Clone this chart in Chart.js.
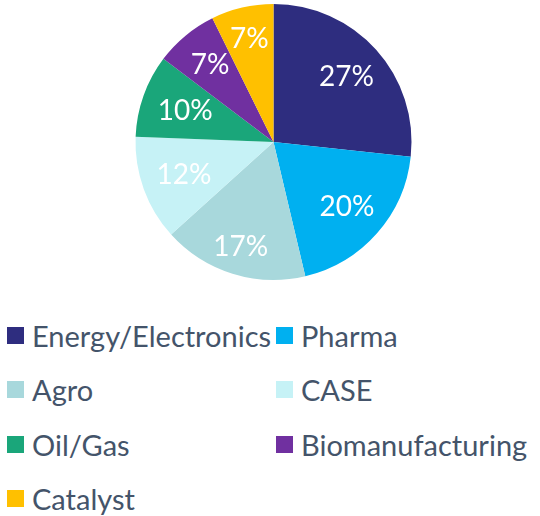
<!DOCTYPE html>
<html>
<head>
<meta charset="utf-8">
<script src="https://cdn.jsdelivr.net/npm/chart.js@4/dist/chart.umd.min.js"></script>
<style>
  body { margin: 0; background: #fff; font-family: Lato, sans-serif; }
  #wrap { position: relative; width: 540px; height: 300px; }
  #legend { position: absolute; left: 7px; top: 317px; display: grid;
    grid-template-columns: 269px 260px; grid-auto-rows: 54.5px; }
  .item { display: flex; align-items: center; height: 36px; color: #44546A; font-size: 29px; white-space: nowrap; }
  .box { width: 17px; height: 17px; margin-right: 8px; flex: none; }
</style>
</head>
<body>
<div id="wrap"><canvas id="pie"></canvas></div>
<div id="legend"></div>
<script>
// sectors and their shares
const sectors = ["Energy/Electronics", "Pharma", "Agro", "CASE", "Oil/Gas", "Biomanufacturing", "Catalyst"];
const shares = [26.7, 19.6, 17.0, 12.3, 9.7, 7.4, 7.3];
const colours = ["#2E2D7F", "#00B0F0", "#A8D8DC", "#C6F2F6", "#1AA67A", "#7030A0", "#FFC000"];

// draws the white percent labels inside each slice
const sliceLabels = {
    id: "sliceLabels",
    afterDatasetsDraw(chart) {
        const ctx = chart.ctx;
        const dist = [0.71, 0.71, 0.8, 0.69, 0.68, 0.72, 0.77];
        const total = shares.reduce((a, b) => a + b, 0);
        ctx.save();
        ctx.fillStyle = "#fff";
        ctx.font = "28px Lato";
        ctx.textAlign = "center";
        ctx.textBaseline = "middle";
        chart.getDatasetMeta(0).data.forEach((arc, i) => {
            const p = arc.getProps(["x", "y", "startAngle", "endAngle", "outerRadius"], true);
            const mid = (p.startAngle + p.endAngle) / 2;
            const r = p.outerRadius * dist[i];
            const txt = Math.round(shares[i] / total * 100) + "%";
            ctx.fillText(txt, p.x + Math.cos(mid) * r, p.y + Math.sin(mid) * r);
        });
        ctx.restore();
    }
};

new Chart("pie", {
    type: "pie",
    data: {
        labels: sectors,
        datasets: [{
            data: shares,
            backgroundColor: colours,
            borderWidth: 0
        }]
    },
    options: {
        responsive: true,
        maintainAspectRatio: false,
        animation: false,
        layout: { padding: { top: 4, bottom: 20, left: 7, right: 0 } },
        plugins: {
            legend: { display: false },
            tooltip: { enabled: false }
        }
    },
    plugins: [sliceLabels]
});

// legend below the pie, two columns
const legend = document.getElementById("legend");
sectors.forEach((s, i) => {
    const item = document.createElement("div");
    item.className = "item";
    item.innerHTML = '<span class="box" style="background:' + colours[i] + '"></span>' + s;
    legend.appendChild(item);
});
</script>
</body>
</html>
